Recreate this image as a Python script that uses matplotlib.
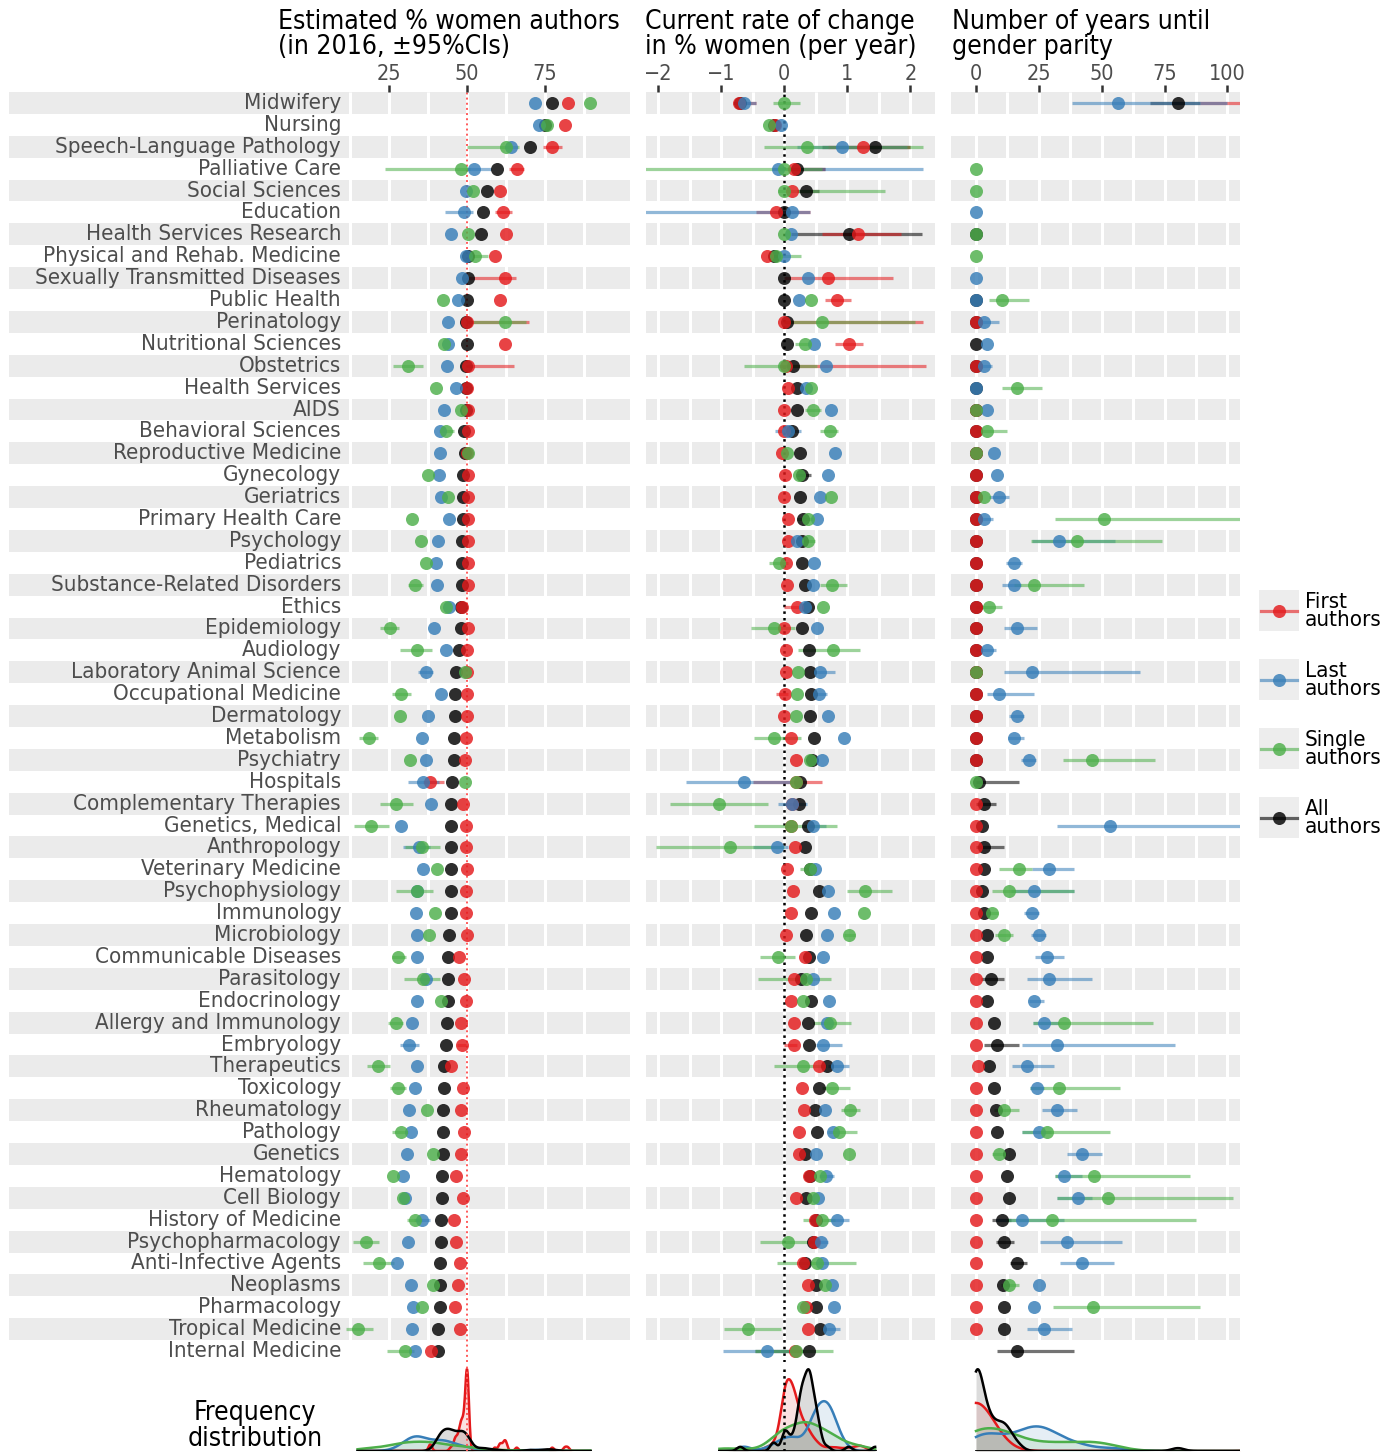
import numpy as np
import matplotlib
matplotlib.use("Agg")
import matplotlib.pyplot as plt
from matplotlib import font_manager as fm
from matplotlib.patches import Rectangle

W, H = 1398, 1454
nan = np.nan

# pick a condensed sans if there is one
fonts = fm.fontManager.ttflist
has_cond = any(f.name == "DejaVu Sans" and "ondensed" in f.fname for f in fonts)
names = {f.name for f in fonts}
if has_cond:
    plt.rcParams["font.family"] = ["DejaVu Sans"]
    plt.rcParams["font.stretch"] = "condensed"
    FS = 1.0
elif "Liberation Sans Narrow" in names:
    plt.rcParams["font.family"] = ["Liberation Sans Narrow", "DejaVu Sans"]
    FS = 1.12
else:
    plt.rcParams["font.family"] = ["DejaVu Sans"]
    FS = 0.88

categories = ["Midwifery", "Nursing", "Speech-Language Pathology", "Palliative Care",
              "Social Sciences", "Education", "Health Services Research",
              "Physical and Rehab. Medicine", "Sexually Transmitted Diseases", "Public Health",
              "Perinatology", "Nutritional Sciences", "Obstetrics", "Health Services", "AIDS",
              "Behavioral Sciences", "Reproductive Medicine", "Gynecology", "Geriatrics",
              "Primary Health Care", "Psychology", "Pediatrics", "Substance-Related Disorders",
              "Ethics", "Epidemiology", "Audiology", "Laboratory Animal Science",
              "Occupational Medicine", "Dermatology", "Metabolism", "Psychiatry", "Hospitals",
              "Complementary Therapies", "Genetics, Medical", "Anthropology",
              "Veterinary Medicine", "Psychophysiology", "Immunology", "Microbiology",
              "Communicable Diseases", "Parasitology", "Endocrinology", "Allergy and Immunology",
              "Embryology", "Therapeutics", "Toxicology", "Rheumatology", "Pathology",
              "Genetics", "Hematology", "Cell Biology", "History of Medicine",
              "Psychopharmacology", "Anti-Infective Agents", "Neoplasms", "Pharmacology",
              "Tropical Medicine", "Internal Medicine"]

# ---- panel 1: estimated % women authors in 2016 ----
p1_first = [82.3, 81.3, 77.3, 65.9, 60.6, 61.5, 62.6, 58.9, 62.2, 60.5,
            50.0, 62.1, 50.2, 50.0, 50.2, 50.2, 50.0, 50.2, 50.2, 50.2,
            50.2, 50.2, 50.2, 48.5, 50.2, 50.0, 50.0, 50.0, 50.0, 49.7,
            49.4, 38.1, 48.6, 49.6, 49.6, 49.9, 49.7, 49.7, 50.0, 47.4,
            49.0, 49.7, 47.9, 48.3, 44.8, 48.7, 48.1, 49.0, 47.9, 46.4,
            48.7, 45.9, 46.6, 47.7, 47.0, 46.1, 47.7, 38.3]
p1_last = [71.7, 73.1, 64.2, 52.1, 49.8, 49.0, 44.7, 49.8, 48.4, 47.0,
           43.8, 43.8, 43.6, 46.6, 42.7, 41.2, 41.4, 41.0, 41.7, 44.1,
           40.7, 40.1, 40.4, 44.2, 39.3, 43.1, 36.7, 41.6, 37.6, 35.4,
           36.7, 35.8, 38.3, 28.9, 34.7, 35.8, 33.8, 33.7, 33.8, 33.8,
           36.7, 34.1, 32.5, 31.5, 34.1, 33.2, 31.5, 32.1, 30.8, 29.5,
           30.2, 35.4, 31.1, 27.6, 32.1, 32.8, 32.4, 33.4]
p1_single = [89.5, 75.5, 62.6, 48.2, 52.0, nan, 50.4, 52.4, nan, 42.2,
             62.0, 42.5, 31.1, 40.1, 48.1, 43.3, 50.2, 37.6, 43.8, 32.2,
             35.3, 36.9, 33.4, 43.1, 25.2, 33.9, 49.2, 28.9, 28.6, 18.5,
             31.7, 49.2, 27.3, 19.2, 35.6, 40.3, 33.8, 39.6, 37.8, 28.0,
             36.0, 41.6, 27.2, nan, 21.5, 27.8, 37.3, 28.9, 39.0, 26.3,
             29.5, 33.2, 17.5, 21.8, 39.2, 35.6, 14.9, 30.2]
p1_all = [77.2, 75.0, 70.1, 59.7, 56.3, 55.0, 54.4, 50.2, 50.3, 50.0,
          49.5, 50.0, 49.5, 49.5, 49.6, 49.1, 49.3, 48.7, 48.6, 48.6,
          48.3, 48.3, 48.3, 48.0, 48.1, 47.4, 46.4, 46.1, 46.0, 45.7,
          45.7, 45.3, 44.8, 44.8, 44.7, 44.7, 44.7, 44.7, 44.2, 44.0,
          44.0, 44.0, 43.4, 43.1, 42.5, 42.5, 42.2, 42.2, 42.2, 41.8,
          41.8, 41.5, 41.5, 41.2, 41.2, 41.2, 40.8, 40.8]
# visible 95% CIs, row number -> (low, high)
p1_first_ci = {3: (74.3, 80.3), 4: (63.5, 68.3), 6: (59.0, 64.5), 9: (50.0, 65.8),
               11: (49.5, 69.7), 13: (50.0, 65.0), 32: (36.0, 42.5), 44: (46.8, 49.8)}
p1_last_ci = {4: (50.0, 57.6), 6: (42.9, 52.0), 27: (34.3, 39.2), 32: (31.1, 41.0),
              35: (29.5, 38.0), 44: (28.6, 34.7), 52: (33.0, 38.0)}
p1_single_ci = {3: (50.0, 66.7), 4: (23.7, 51.0), 8: (50.5, 56.6), 11: (50.0, 69.0),
                13: (26.3, 35.9), 16: (41.0, 45.9), 23: (31.0, 36.0), 25: (22.2, 28.2),
                26: (28.5, 38.6), 28: (25.8, 32.0), 30: (15.5, 21.5), 33: (22.0, 32.8),
                34: (13.7, 25.0), 35: (30.0, 41.2), 37: (27.3, 39.2), 40: (26.0, 30.5),
                41: (29.9, 41.2), 43: (24.5, 29.5), 45: (17.9, 25.4), 46: (25.3, 30.5),
                48: (26.0, 31.0), 52: (30.6, 35.5), 53: (13.3, 21.8), 54: (16.6, 26.7),
                57: (11.1, 19.8), 58: (24.3, 33.0)}
p1_all_ci = {}

# ---- panel 2: current rate of change (% per year) ----
p2_first = [-0.72, -0.15, 1.24, 0.15, 0.12, -0.13, 1.17, -0.28, 0.70, 0.84,
            0.00, 1.02, 0.02, 0.05, 0.00, 0.00, -0.03, 0.01, 0.00, 0.05,
            0.05, 0.03, 0.04, 0.20, 0.00, 0.03, 0.02, 0.01, 0.00, 0.10,
            0.19, 0.18, 0.12, 0.11, 0.17, 0.04, 0.13, 0.10, 0.03, 0.33,
            0.15, 0.10, 0.16, 0.16, 0.55, 0.28, 0.31, 0.23, 0.23, 0.39,
            0.19, 0.48, 0.47, 0.29, 0.37, 0.34, 0.37, 0.17]
p2_last = [-0.64, -0.06, 0.92, -0.10, nan, 0.12, 0.10, 0.00, 0.37, 0.23,
           nan, 0.47, 0.66, 0.35, 0.74, 0.06, 0.80, 0.70, 0.56, 0.51,
           0.20, 0.47, 0.45, 0.33, 0.51, nan, 0.57, 0.55, 0.70, 0.95,
           0.59, -0.64, 0.12, 0.45, -0.12, 0.48, 0.70, 0.79, 0.68, 0.61,
           0.46, 0.71, 0.68, 0.62, 0.83, nan, 0.65, 0.77, 0.50, 0.66,
           0.54, 0.83, 0.58, 0.60, 0.76, 0.78, 0.71, -0.28]
p2_single = [0.00, -0.25, 0.36, 0.00, 0.00, nan, 0.00, -0.13, nan, 0.42,
             0.59, 0.33, 0.00, 0.43, 0.45, 0.72, 0.04, 0.24, 0.74, 0.38,
             0.37, -0.08, 0.75, 0.62, -0.17, 0.77, 0.21, 0.20, 0.19, -0.17,
             0.41, 0.18, -1.03, 0.10, -0.87, 0.41, 1.28, 1.26, 1.03, -0.10,
             0.34, 0.29, 0.73, nan, 0.29, 0.76, 1.04, 0.86, 1.02, 0.57,
             0.45, 0.60, 0.05, 0.52, 0.65, 0.29, -0.58, 0.19]
p2_all = [-0.70, -0.17, 1.44, 0.20, 0.34, 0.00, 1.02, -0.17, 0.00, 0.00,
          0.04, 0.04, 0.13, 0.20, 0.20, 0.12, 0.25, 0.28, 0.25, 0.30,
          0.28, 0.28, 0.32, 0.38, 0.28, 0.39, 0.41, 0.43, 0.41, 0.47,
          0.44, 0.25, 0.23, 0.37, 0.32, 0.40, 0.55, 0.42, 0.35, 0.39,
          0.26, 0.42, 0.37, 0.39, 0.68, 0.55, 0.48, 0.52, 0.32, 0.41,
          0.34, 0.50, 0.46, 0.32, 0.50, 0.50, 0.57, 0.39]
p2_first_ci = {1: (-0.80, -0.45), 3: (0.70, 2.00), 4: (0.10, 0.65), 6: (-0.45, 0.41),
               7: (0.60, 1.85), 9: (0.00, 1.73), 10: (0.65, 1.05), 11: (0.00, 2.20),
               12: (0.80, 1.24), 13: (-0.05, 2.25), 24: (0.00, 0.25), 28: (-0.14, 0.05),
               32: (-0.50, 0.59), 44: (-0.01, 0.20)}
p2_last_ci = {1: (-0.81, -0.45), 3: (0.20, 1.95), 4: (-0.20, 2.20), 6: (-2.25, 0.41),
              16: (-0.15, 0.26), 27: (0.45, 0.81), 28: (0.45, 0.68), 32: (-1.56, 0.10),
              33: (-0.10, 0.36), 34: (0.30, 0.66), 35: (-0.50, 0.05), 44: (0.50, 0.91),
              45: (0.70, 1.02), 50: (0.55, 0.79), 52: (0.70, 1.03), 53: (0.45, 0.70),
              57: (0.60, 0.88), 58: (-0.98, 0.08)}
p2_single_ci = {1: (-0.18, 0.25), 3: (-0.32, 2.20), 4: (-2.25, 0.60), 5: (-0.10, 1.60),
                8: (-0.20, 0.26), 11: (0.00, 2.07), 12: (0.17, 0.40), 13: (-0.64, 0.51),
                15: (0.33, 0.58), 16: (0.56, 0.85), 20: (0.20, 0.45), 21: (0.30, 0.49),
                22: (-0.24, 0.06), 23: (0.57, 0.99), 25: (-0.53, 0.17), 26: (0.21, 1.20),
                30: (-0.48, 0.26), 33: (-1.82, -0.26), 34: (-0.48, 0.83), 35: (-2.03, 0.00),
                36: (0.25, 0.50), 37: (1.00, 1.70), 39: (0.95, 1.12), 40: (-0.38, 0.17),
                41: (-0.42, 0.74), 43: (0.46, 1.05), 45: (-0.17, 0.66), 46: (0.60, 1.04),
                47: (0.90, 1.20), 48: (0.70, 1.16), 52: (0.30, 0.80), 53: (-0.38, 0.46),
                54: (-0.12, 1.13), 57: (-0.96, -0.06), 58: (-0.46, 0.77)}
p2_all_ci = {3: (0.60, 2.00), 4: (0.10, 0.65), 5: (0.20, 0.55), 7: (0.10, 2.18),
             18: (0.20, 0.43), 58: (-0.46, 0.30)}

# ---- panel 3: years until gender parity ----
p3_first = [118, nan, nan, nan, nan, nan, nan, nan, nan, nan,
            0, nan, 0, nan, 0, 0, 0, 0, 0, 0,
            0, 0, 0, 0, 0, 0, 0, 0, 0, 0,
            0, nan, 0, 0, 0, 0, 0, 0, 0, 0,
            0, 0, 0, 0, 0.9, 0, 0, 0, 0, 0,
            0, 0, 0, 0, 0, 0, 0, nan]
p3_last = [56.4, nan, nan, nan, nan, 0, nan, nan, 0, 0,
           3.3, 4.2, 3.3, 0, 4.2, nan, 7.3, 8.2, 9.3, 3.3,
           33.2, 15.3, 15.3, nan, 16.2, 4.2, 22.1, 9.3, 16.2, 15.1,
           21.2, nan, nan, 53.3, nan, 29.2, 23.2, 22.4, 25.2, 28.1,
           29.2, 23.2, 27.2, 32.1, 20.4, 24.1, 32.1, 25.1, 42.3, 35.1,
           40.7, 18.2, 36.1, 42.3, 25.2, 23.2, 27.2, nan]
p3_single = [nan, nan, nan, 0, 0, nan, 0, 0, nan, 10.2,
             nan, nan, nan, 16.2, 0, 4.2, 0, nan, 3.3, 51.1,
             40.1, nan, 23.2, 5.3, nan, nan, 0, nan, nan, nan,
             46.3, 0, nan, nan, nan, 17.1, 13.3, 6.5, 11.3, nan,
             nan, nan, 35.1, nan, nan, 33.2, 11.3, 28.1, 9.2, 47.1,
             52.3, 30.4, nan, nan, 13.3, 46.7, nan, nan]
p3_all = [80.3, nan, nan, nan, nan, nan, 0, nan, nan, 0,
          0, 0, 0, 0, 0, 0, 0, 0, 0, 0,
          0, 0, 0, 0, 0, 0, 0, 0, 0, 0,
          0, 1.3, 3.3, 2.5, 3.3, 3.3, 2.3, 3.3, 4.2, 4.2,
          6.0, 4.2, 7.3, 8.2, 5.3, 7.3, 8.0, 8.2, 13.3, 12.2,
          13.1, 10.2, 11.3, 16.2, 10.9, 11.3, 11.3, 16.2]
p3_first_ci = {1: (89.0, 150.0)}
p3_last_ci = {1: (38.3, 100.0), 11: (0.0, 9.3), 13: (0.0, 6.2), 19: (5.0, 13.3),
              20: (0.0, 6.9), 21: (22.4, 55.3), 22: (12.0, 18.2), 23: (10.5, 18.0),
              25: (11.3, 24.1), 26: (0.0, 8.0), 27: (11.3, 65.3), 28: (4.2, 23.2),
              29: (13.0, 19.1), 30: (12.9, 19.1), 31: (18.0, 24.0), 34: (32.4, 110.0),
              36: (22.1, 39.1), 37: (14.0, 39.1), 38: (19.0, 25.0), 39: (22.0, 28.0),
              40: (23.5, 35.1), 41: (20.4, 46.3), 42: (21.0, 27.0), 43: (22.5, 33.0),
              44: (18.4, 79.2), 45: (14.5, 31.2), 46: (21.5, 27.0), 47: (26.4, 40.1),
              48: (18.4, 30.0), 49: (36.3, 50.3), 50: (31.5, 42.0), 51: (32.4, 46.0),
              52: (8.0, 35.1), 53: (25.5, 58.2), 54: (33.4, 55.0), 57: (20.4, 38.1)}
p3_single_ci = {10: (5.3, 21.2), 14: (10.5, 26.1), 16: (0.0, 12.2), 20: (31.4, 110.0),
                21: (22.0, 74.1), 23: (15.0, 43.1), 24: (0.0, 10.2), 31: (34.4, 71.2),
                36: (9.3, 22.1), 37: (6.5, 39.1), 38: (4.0, 8.9), 39: (7.6, 14.9),
                43: (22.5, 70.2), 46: (21.5, 57.3), 47: (7.0, 17.1), 48: (18.4, 53.3),
                49: (6.5, 12.0), 50: (31.5, 85.1), 51: (32.4, 102.1), 52: (12.0, 87.4),
                55: (10.0, 17.0), 56: (30.5, 89.1)}
p3_all_ci = {1: (69.2, 89.0), 32: (0.0, 17.2), 33: (0.0, 8.0), 35: (0.0, 11.1),
             41: (2.0, 11.1), 44: (3.3, 17.1), 52: (6.5, 14.0), 53: (8.0, 15.0),
             54: (13.5, 20.2), 58: (8.5, 39.1)}

legend_labels = ["First\nauthors", "Last\nauthors", "Single\nauthors", "All\nauthors"]

RED, BLUE, GREEN, BLACK = "#E41A1C", "#377EB8", "#4DAF4A", "#000000"
COLORS = {"first": RED, "last": BLUE, "single": GREEN, "all": BLACK}
DRAW_ORDER = ["all", "first", "last", "single"]
BAND = "#EBEBEB"
TXT = "#4D4D4D"


def box(x0, y0, x1, y1):
    return [x0 / W, 1 - y1 / H, (x1 - x0) / W, (y1 - y0) / H]


def kde(x, grid):
    x = np.asarray(x, float)
    x = x[~np.isnan(x)]
    sd = np.std(x, ddof=1)
    iqr = np.subtract(*np.percentile(x, [75, 25]))
    lo = min(sd, iqr / 1.34)
    if lo <= 0:
        lo = sd
    bw = 0.9 * lo * len(x) ** -0.2
    z = (grid[:, None] - x[None, :]) / bw
    return np.exp(-0.5 * z ** 2).sum(1) / (len(x) * bw * np.sqrt(2 * np.pi))


panels = [
    dict(vals=dict(first=p1_first, last=p1_last, single=p1_single, all=p1_all),
         ci=dict(first=p1_first_ci, last=p1_last_ci, single=p1_single_ci, all=p1_all_ci),
         xlim=(-96.8, 102.2), ticks=[25, 50, 75], grid=np.arange(12.5, 88, 12.5),
         ref=(50, "#FF5A5A", 1.4), box=(9, 92, 630, 1362), dbox=(9, 1366, 630, 1451),
         title="Estimated % women authors\n(in 2016, \u00b195%CIs)", tx=278),
    dict(vals=dict(first=p2_first, last=p2_last, single=p2_single, all=p2_all),
         ci=dict(first=p2_first_ci, last=p2_last_ci, single=p2_single_ci, all=p2_all_ci),
         xlim=(-2.195, 2.39), ticks=[-2, -1, 0, 1, 2], grid=np.arange(-2, 2.01, 0.5),
         ref=(0, "black", 1.8), box=(646, 92, 935, 1362), dbox=(646, 1366, 935, 1451),
         title="Current rate of change\nin % women (per year)", tx=645),
    dict(vals=dict(first=p3_first, last=p3_last, single=p3_single, all=p3_all),
         ci=dict(first=p3_first_ci, last=p3_last_ci, single=p3_single_ci, all=p3_all_ci),
         xlim=(-9.95, 105.0), ticks=[0, 25, 50, 75, 100], grid=np.arange(0, 101, 12.5),
         ref=None, box=(951, 92, 1240, 1362), dbox=(951, 1366, 1240, 1451),
         title="Number of years until\ngender parity", tx=952),
]

n = len(categories)
rows = np.arange(1, n + 1)

fig = plt.figure(figsize=(W / 100, H / 100), dpi=100)

for k, p in enumerate(panels):
    ax = fig.add_axes(box(*p["box"]))
    ax.set_xlim(p["xlim"])
    ax.set_ylim(n + 0.5, 0.5)
    for i in range(1, n + 1, 2):
        ax.axhspan(i - 0.5, i + 0.5, color=BAND, lw=0, zorder=0)
    ax.vlines(p["grid"], 0.5, n + 0.5, color="white", lw=2.2, zorder=0.5)
    if p["ref"]:
        ax.axvline(p["ref"][0], color=p["ref"][1], ls=":", lw=p["ref"][2], zorder=1)
    for key in DRAW_ORDER:
        for r, (lo, hi) in p["ci"][key].items():
            ax.plot([lo, hi], [r, r], color=COLORS[key], lw=2.3, alpha=0.55,
                    solid_capstyle="butt", zorder=2)
    for key in DRAW_ORDER:
        ax.scatter(p["vals"][key], rows, s=88, color=COLORS[key], alpha=0.82,
                   linewidths=0, zorder=3)
    ax.xaxis.tick_top()
    ax.set_xticks(p["ticks"])
    ax.set_yticks([])
    ax.tick_params(axis="x", length=5, width=1.8, color="#333333",
                   labelsize=15.5 * FS, labelcolor=TXT, pad=1)
    for s in ax.spines.values():
        s.set_visible(False)
    if k == 0:
        for r, name in zip(rows, categories):
            ax.text(9.6, r, name, ha="right", va="center", fontsize=16 * FS,
                    color=TXT, zorder=4)
    fig.text(p["tx"] / W, 1 - 9 / H, p["title"], ha="left", va="top",
             fontsize=19 * FS, color="black", linespacing=0.95)

    # frequency distributions under each panel
    dax = fig.add_axes(box(*p["dbox"]))
    allv = np.concatenate([np.asarray(v, float) for v in p["vals"].values()])
    allv = allv[~np.isnan(allv)]
    grid = np.linspace(allv.min(), allv.max(), 600)
    top = 0
    for key in ["first", "last", "single", "all"]:
        d = kde(p["vals"][key], grid)
        top = max(top, d.max())
        fill = "#8C8C8C" if key == "all" else COLORS[key]
        dax.fill_between(grid, 0, d, color=fill, alpha=0.3 if key == "all" else 0.13, lw=0)
        dax.plot(grid, d, color=COLORS[key], lw=1.8)
    dax.plot([grid[0], grid[-1]], [0, 0], color="black", lw=2)
    if p["ref"]:
        dax.axvline(p["ref"][0], color=p["ref"][1], ls=":", lw=p["ref"][2])
    dax.set_xlim(p["xlim"])
    dax.set_ylim(0, top * 1.04)
    dax.axis("off")

fig.text(255 / W, 1 - 1426 / H, "Frequency\ndistribution", ha="center", va="center",
         fontsize=19 * FS, color="black", linespacing=0.95)

# legend
lax = fig.add_axes(box(1252, 570, 1398, 860))
lax.set_xlim(1252, 1398)
lax.set_ylim(860, 570)
lax.axis("off")
for j, (key, lab) in enumerate(zip(["first", "last", "single", "all"], legend_labels)):
    yc = 611 + 69 * j
    lax.add_patch(Rectangle((1259, yc - 20.5), 40, 41, facecolor="#EDEDED", lw=0))
    lax.plot([1261, 1297], [yc, yc], color=COLORS[key], lw=2.3, alpha=0.6)
    lax.scatter([1279], [yc], s=88, color=COLORS[key], alpha=0.82, linewidths=0)
    lax.text(1305, yc, lab, ha="left", va="center", fontsize=16 * FS, color="black",
             linespacing=0.9)

fig.savefig("out.png", dpi=100)
